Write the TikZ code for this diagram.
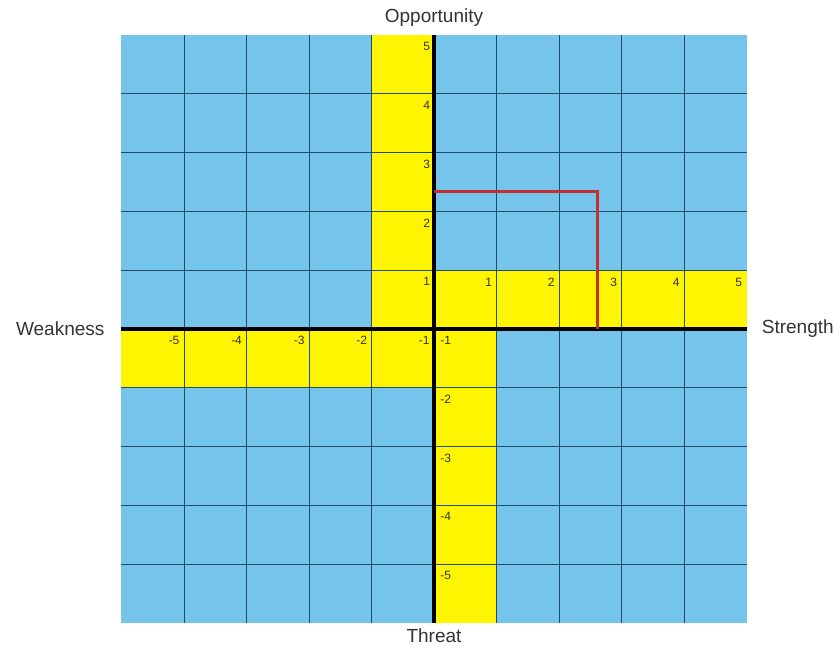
\documentclass[tikz,border=0pt]{standalone}
\usepackage{fontspec}
\setmainfont{Liberation Sans}
\definecolor{skyfill}{HTML}{74C4EC}
\definecolor{ylw}{HTML}{FFF500}
\definecolor{gridc}{HTML}{234A66}
\definecolor{redl}{HTML}{C0302E}
\definecolor{txt}{HTML}{333333}
\begin{document}
\begin{tikzpicture}[x=62.5bp,y=58.8bp,
  axislabel/.style={text=txt,font=\fontsize{19bp}{22bp}\selectfont,inner sep=0pt},
  numlabel/.style={text=txt,font=\fontsize{12bp}{14bp}\selectfont,inner sep=0pt},
  gridline/.style={draw=gridc,line width=0.9bp},
  axisline/.style={draw=black,line width=4.5bp},
  redpath/.style={draw=redl,line width=3bp}]
\useasboundingbox (-6.944,-5.425) rectangle (6.496,5.595);
% background
\fill[skyfill] (-5,-5) rectangle (5,5);
\fill[ylw] (-1,0) rectangle (0,5);
\fill[ylw] (0,0) rectangle (5,1);
\fill[ylw] (-5,-1) rectangle (0,0);
\fill[ylw] (0,-5) rectangle (1,0);
\foreach \k in {-4,...,4}{
  \draw[gridline] (\k,-5) -- (\k,5);
  \draw[gridline] (-5,\k) -- (5,\k);
}
% numbers
\foreach \n in {1,...,5}{
  \node[numlabel,anchor=north east] (up\n) at (-0.06,\n-0.12) {\n};
  \node[numlabel,anchor=north east] (rt\n) at (\n-0.07,0.86) {\n};
  \node[numlabel,anchor=north east] (lf\n) at (-\n+0.93,-0.12) {-\n};
  \node[numlabel,anchor=north west] (dn\n) at (0.1,-\n+0.88) {-\n};
}
% axes
\coordinate (xl) at (-5,0);
\coordinate (xr) at (5,0);
\coordinate (yt) at (0,5);
\coordinate (yb) at (0,-5);
\draw[axisline] (xl) -- (xr);
\draw[axisline] (yb) -- (yt);
% red path
\coordinate (r1) at (0,2.33);
\coordinate (r2) at (2.61,2.33);
\coordinate (r3) at (2.61,0);
\draw[redpath] (r1) -- (r2) -- (r3);
% axis labels
\node[axislabel] (opp) at (0,5.29) {Opportunity};
\node[axislabel] (thr) at (0,-5.22) {Threat};
\node[axislabel] (weak) at (-5.98,0) {Weakness};
\node[axislabel] (str) at (5.82,0) {Strength};
\end{tikzpicture}
\end{document}
